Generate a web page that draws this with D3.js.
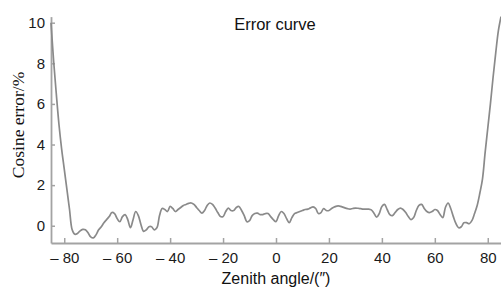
<!DOCTYPE html>
<html>
<head>
<meta charset="utf-8">
<script src="https://cdn.jsdelivr.net/npm/d3@7"></script>
<style>
  body { margin: 0; background: #fff; }
  svg { display: block; }
</style>
</head>
<body>
<svg id="chart" width="501" height="288"></svg>
<script>
// zenith angle (deg) and cosine error (%)
var angles = [
  -85, -84, -83, -82, -81, -80, -79, -78, -77, -76, -75, -74, -73, -72, -71, -70,
  -69, -68, -67, -66, -65, -64, -63, -62, -61, -60, -59, -58, -57, -56, -55, -54,
  -53, -52, -51, -50, -49, -48, -47, -46, -45, -44, -43, -42, -41, -40, -39, -38,
  -37, -36, -35, -34, -33, -32, -31, -30, -29, -28, -27, -26, -25, -24, -23, -22,
  -21, -20, -19, -18, -17, -16, -15, -14, -13, -12, -11, -10, -9, -8, -7, -6,
  -5, -4, -3, -2, -1, 0, 1, 2, 3, 4, 5, 6, 7, 8, 9, 10,
  11, 12, 13, 14, 15, 16, 17, 18, 19, 20, 21, 22, 23, 24, 25, 26,
  27, 28, 29, 30, 31, 32, 33, 34, 35, 36, 37, 38, 39, 40, 41, 42,
  43, 44, 45, 46, 47, 48, 49, 50, 51, 52, 53, 54, 55, 56, 57, 58,
  59, 60, 61, 62, 63, 64, 65, 66, 67, 68, 69, 70, 71, 72, 73, 74,
  75, 76, 77, 78, 79, 80, 81, 82, 83, 84, 85
];
var errors = [
  10.0, 8.1, 6.5, 5.0, 3.8, 2.8, 1.8, 0.8, -0.2, -0.42, -0.38, -0.25, -0.18, -0.2, -0.35, -0.55,
  -0.6, -0.45, -0.2, -0.05, 0.15, 0.3, 0.45, 0.65, 0.6, 0.35, 0.2, 0.45, 0.55, 0.3, -0.1, 0.3,
  0.7, 0.5, 0.05, -0.28, -0.2, -0.05, -0.05, -0.2, -0.1, 0.5, 0.85, 0.8, 0.7, 0.95, 0.85, 0.7,
  0.8, 0.9, 1.0, 1.05, 1.1, 1.12, 1.05, 0.9, 0.75, 0.62, 0.75, 1.0, 1.12, 1.05, 0.87, 0.65,
  0.45, 0.45, 0.7, 0.87, 0.75, 0.75, 0.9, 0.95, 0.75, 0.5, 0.2, 0.25, 0.5, 0.6, 0.62, 0.55,
  0.55, 0.6, 0.6, 0.45, 0.3, 0.2, 0.5, 0.7, 0.6, 0.35, 0.15, 0.4, 0.6, 0.65, 0.7, 0.75,
  0.8, 0.82, 0.88, 0.93, 0.85, 0.6, 0.65, 0.85, 0.75, 0.75, 0.85, 0.92, 0.97, 0.97, 0.93, 0.88,
  0.84, 0.82, 0.85, 0.87, 0.86, 0.84, 0.82, 0.82, 0.82, 0.78, 0.62, 0.42, 0.6, 0.95, 1.05, 0.8,
  0.55, 0.5, 0.65, 0.8, 0.87, 0.8, 0.65, 0.45, 0.3, 0.4, 0.75, 1.0, 1.05, 0.85, 0.7, 0.65,
  0.7, 0.8, 0.75, 0.55, 0.4, 0.9, 1.12, 0.85, 0.45, 0.1, -0.1, -0.05, 0.15, 0.15, 0.1, 0.25,
  0.6, 1.0, 1.6, 2.3, 3.6, 4.8, 6.0, 7.3, 8.5, 9.6, 10.3
];
var xTicks = [-80, -60, -40, -20, 0, 20, 40, 60, 80];
var yTicks = [0, 2, 4, 6, 8, 10];

var svg = d3.select('#chart');

var x = d3.scaleLinear().domain([-85, 85]).range([51, 501]);
var y = d3.scaleLinear().domain([-0.85, 10.3]).range([243, 16.6]);

var axisColor = '#a3a3a3';
var tickFont = '"Liberation Sans", Arial, sans-serif';

// x axis, ticks point up into the plot
var gx = svg.append('g')
    .attr('transform', 'translate(0,' + y(-0.85) + ')')
    .call(d3.axisBottom(x).tickValues(xTicks).tickSizeInner(-5).tickSizeOuter(0)
        .tickPadding(9)
        .tickFormat(function(d) { return d < 0 ? '\u2013 ' + Math.abs(d) : d; }));

// y axis, ticks point right into the plot
var gy = svg.append('g')
    .attr('transform', 'translate(' + x(-85) + ',0)')
    .call(d3.axisLeft(y).tickValues(yTicks).tickSizeInner(-4).tickSizeOuter(0)
        .tickPadding(6));

[gx, gy].forEach(function(g) {
    g.select('.domain').attr('stroke', axisColor).attr('stroke-width', 1.8);
    g.selectAll('.tick line').attr('stroke', axisColor).attr('stroke-width', 1.5);
    g.selectAll('.tick text')
        .attr('fill', '#1a1a1a')
        .style('font-family', tickFont)
        .style('font-size', '15px');
});

// curve
var line = d3.line()
    .x(function(d, i) { return x(angles[i]); })
    .y(function(d) { return y(d); })
    .curve(d3.curveCatmullRom.alpha(0.5));

svg.append('path')
    .datum(errors)
    .attr('d', line)
    .attr('fill', 'none')
    .attr('stroke', '#8a8a8a')
    .attr('stroke-width', 1.7)
    .attr('stroke-linejoin', 'round');

// title and axis labels
svg.append('text')
    .attr('x', 275)
    .attr('y', 30)
    .attr('text-anchor', 'middle')
    .style('font-family', tickFont)
    .style('font-size', '16.5px')
    .attr('fill', '#111')
    .text('Error curve');

svg.append('text')
    .attr('x', 276)
    .attr('y', 284)
    .attr('text-anchor', 'middle')
    .style('font-family', tickFont)
    .style('font-size', '16px')
    .attr('fill', '#111')
    .text('Zenith angle/(\u2033)');

svg.append('text')
    .attr('transform', 'translate(24,125) rotate(-90)')
    .attr('text-anchor', 'middle')
    .style('font-family', '"Liberation Serif", "Times New Roman", serif')
    .style('font-size', '17.5px')
    .attr('fill', '#111')
    .text('Cosine error/%');
</script>
</body>
</html>
